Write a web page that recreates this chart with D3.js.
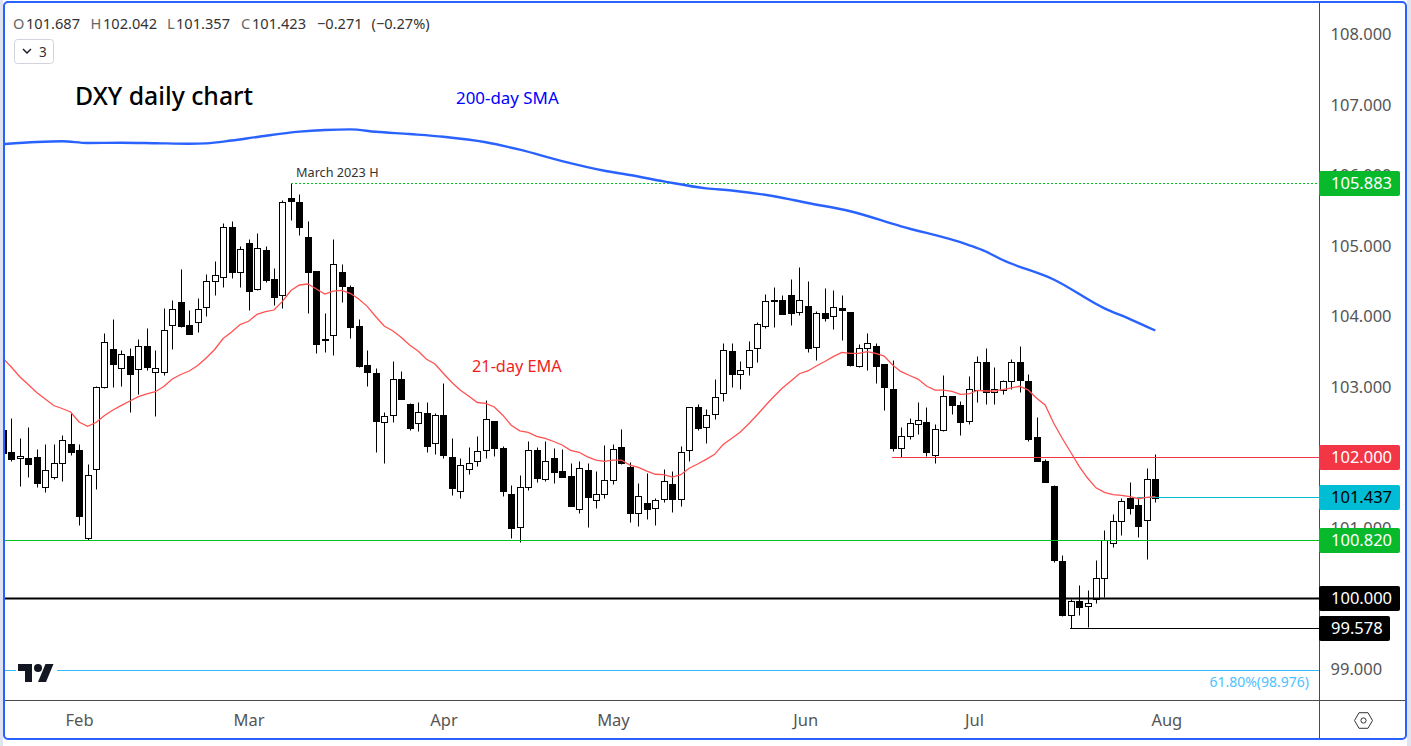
<!DOCTYPE html>
<html lang="en">
<head>
    <title>DXY daily chart</title>
    <script src="https://d3js.org/d3.v7.min.js"></script>
    <style>
        html, body {
            margin: 0;
            padding: 0;
            background: #ffffff;
            overflow: hidden;
        }
        svg {
            display: block;
        }
        text {
            font-family: "Noto Sans", sans-serif;
        }
        .axis path, .axis line {
            display: none;
        }
        .axis text {
            fill: #555555;
            font-size: 16.5px;
        }
    </style>
</head>
<body>
<svg class="chart" width="1411" height="746"></svg>

<script>
    // daily bars (first bar is cut by the frame)
    const opens = [102.383,102.071,101.981,101.986,102.000,101.570,101.712,101.910,102.184,102.099,
        100.846,101.825,102.988,103.532,103.258,103.433,103.243,103.574,103.210,103.201,
        103.868,104.199,103.872,103.910,104.123,104.492,104.548,105.258,104.619,105.035,
        104.378,104.936,104.525,104.293,105.674,105.612,105.116,104.638,103.664,103.726,
        104.619,104.407,103.853,103.300,103.187,102.492,102.591,103.102,102.752,102.478,
        102.619,102.194,102.591,101.995,101.513,101.825,101.938,102.094,102.506,102.123,
        101.470,101.002,101.570,102.094,101.693,101.981,101.797,101.726,101.258,101.811,
        101.385,101.470,101.669,102.137,101.853,101.201,101.343,101.272,101.399,101.612,
        101.399,102.094,102.704,102.421,102.605,102.903,103.499,103.182,103.272,103.541,
        103.853,104.217,104.222,104.293,104.052,104.137,103.555,104.038,103.995,104.108,
        104.052,103.286,103.541,103.569,103.314,102.964,102.123,102.293,102.472,102.491,
        102.023,102.378,102.865,102.732,102.506,102.945,103.342,102.917,102.945,103.073,
        103.342,103.073,102.279,101.938,101.584,100.520,99.754,99.953,99.882,99.981,
        100.279,100.775,101.087,101.414,101.314,101.102,101.687];
    const highs = [102.450,102.553,102.265,102.421,102.109,102.180,102.180,102.307,102.619,102.180,
        101.896,103.002,103.754,103.953,103.513,103.541,103.669,103.825,103.513,104.109,
        104.222,104.662,104.080,104.251,104.591,104.775,105.314,105.343,104.993,105.087,
        105.173,104.993,104.676,105.645,105.883,105.726,105.343,104.640,104.038,105.087,
        104.733,104.435,103.953,103.513,103.258,102.634,103.357,103.215,102.761,102.775,
        102.775,102.619,103.045,102.265,101.981,102.137,102.298,102.808,102.510,102.151,
        101.598,101.740,102.222,102.137,102.222,102.123,102.109,101.910,101.938,101.910,
        101.797,102.165,102.179,102.392,101.924,101.626,101.768,101.414,101.825,101.797,
        102.151,102.710,102.747,102.681,103.101,103.612,103.612,103.357,103.640,103.910,
        104.307,104.406,104.293,104.520,104.690,104.491,104.075,104.392,104.364,104.293,
        104.061,103.598,103.754,103.612,103.320,103.375,102.420,102.548,102.775,102.704,
        102.463,103.158,102.870,102.789,103.144,103.427,103.541,103.271,103.090,103.385,
        103.569,103.172,102.562,101.967,101.602,100.605,99.981,100.180,100.109,100.534,
        100.964,101.187,101.414,101.641,101.423,101.839,102.042];
    const lows = [101.980,101.948,101.593,101.721,101.579,101.508,101.693,101.664,102.024,101.040,
        100.823,101.551,102.980,102.998,103.007,102.643,102.898,103.239,102.586,103.168,
        103.537,103.849,103.745,103.778,104.005,104.303,104.416,104.544,104.416,104.090,
        104.370,104.487,104.156,104.118,105.362,105.154,104.047,103.480,103.494,103.452,
        104.203,103.693,103.281,103.012,102.076,101.920,102.501,102.820,102.388,102.374,
        102.076,102.047,101.991,101.461,101.423,101.763,101.877,101.990,102.019,101.451,
        100.856,100.799,101.536,101.650,101.664,101.636,101.715,101.305,101.210,101.012,
        101.281,101.423,101.622,101.896,101.083,101.026,101.125,101.040,101.366,101.224,
        101.310,101.948,102.387,102.203,102.543,102.799,102.997,102.969,103.168,103.352,
        103.834,103.848,104.030,103.877,104.019,103.494,103.380,103.934,103.820,103.664,
        103.295,103.280,103.238,103.054,102.671,102.089,101.995,102.260,102.326,102.019,
        101.919,102.370,102.614,102.316,102.472,102.784,102.756,102.756,102.888,102.959,
        102.926,102.231,101.940,101.640,100.515,99.749,99.578,99.764,99.593,99.934,
        100.009,100.728,100.898,101.196,100.870,100.558,101.357];
    const closes = [102.052,101.976,102.009,101.905,101.636,101.811,101.910,102.236,102.076,101.168,
        101.740,102.988,103.626,103.324,103.456,103.182,103.570,103.281,103.258,103.797,
        104.095,103.863,103.749,104.095,104.492,104.577,105.258,104.629,104.946,104.359,
        104.960,104.515,104.274,105.612,105.636,105.267,104.629,103.608,103.669,104.733,
        104.430,103.849,103.296,103.210,102.515,102.577,103.102,102.827,102.416,102.634,
        102.161,102.591,102.033,101.565,101.882,101.910,102.080,102.534,102.132,101.522,
        100.997,101.570,102.094,101.707,101.938,101.792,101.721,101.310,101.839,101.437,
        101.470,101.669,102.109,101.919,101.210,101.442,101.267,101.385,101.655,101.409,
        102.066,102.704,102.416,102.591,102.846,103.513,103.182,103.229,103.513,103.881,
        104.208,104.222,104.033,104.047,104.222,103.551,104.038,103.976,104.123,104.090,
        103.309,103.541,103.612,103.295,102.997,102.132,102.293,102.477,102.520,102.075,
        102.392,102.860,102.742,102.501,102.959,103.342,102.917,102.959,103.073,103.342,
        103.097,102.260,101.948,101.650,100.543,99.764,99.953,99.877,99.924,100.279,
        100.818,101.087,101.371,101.281,101.026,101.683,101.423];

    // 21-day EMA, one value per bar
    const ema21 = [103.404,103.276,103.139,103.028,102.915,102.823,102.730,102.688,102.638,102.496,
        102.435,102.489,102.589,102.667,102.733,102.794,102.855,102.894,102.926,103.000,
        103.106,103.170,103.220,103.298,103.404,103.525,103.681,103.773,103.879,103.925,
        104.024,104.061,104.085,104.208,104.362,104.440,104.454,104.383,104.312,104.354,
        104.364,104.322,104.241,104.137,103.993,103.858,103.791,103.698,103.589,103.503,
        103.386,103.319,103.184,103.057,102.946,102.862,102.773,102.760,102.709,102.593,
        102.450,102.372,102.350,102.294,102.265,102.220,102.170,102.095,102.067,102.003,
        101.957,101.939,101.957,101.957,101.886,101.854,101.801,101.755,101.749,101.716,
        101.749,101.840,101.901,101.967,102.038,102.177,102.262,102.350,102.468,102.596,
        102.730,102.858,102.979,103.078,103.181,103.220,103.291,103.354,103.423,103.485,
        103.471,103.471,103.494,103.471,103.432,103.305,103.210,103.156,103.106,103.007,
        102.950,102.950,102.932,102.889,102.894,102.946,102.936,102.936,102.955,102.979,
        103.003,102.950,102.833,102.738,102.482,102.269,102.071,101.872,101.702,101.563,
        101.499,101.465,101.457,101.437,101.408,101.428,101.437];

    // 200-day SMA, read at these bars
    const smaBars = [0,4,7,10,14,18,22,24,27,30,35,38,41,44,48,52,57,61,66,71,74,78,83,86,91,95,100,106,114,116,118,124,130,133,136];
    const smaValues = [106.438,106.468,106.478,106.454,106.458,106.451,106.444,106.449,106.489,106.539,
        106.615,106.638,106.647,106.614,106.581,106.543,106.465,106.359,106.198,106.061,106.000,
        105.909,105.810,105.780,105.699,105.603,105.486,105.272,105.007,104.915,104.794,104.518,
        104.109,103.957,103.794];

    // axes
    const priceTicks = [99,100,101,102,103,104,105,106,107,108];
    const monthBars = [9,29,52,72,94.7,114.6,137.3];
    const monthNames = ["Feb","Mar","Apr","May","Jun","Jul","Aug"];

    // horizontal levels and the bar each one starts from
    const levelValues = [105.883,102,101.437,100.82,100,99.578,98.976];
    const levelStartBars = [34,105,134,0,0,126,0];

    // header legend
    const legendParts = ["O","101.687","H","102.042","L","101.357","C","101.423","\u22120.271","(\u22120.27%)"];

    const width = 1411, height = 746;
    const frame = {left: 5, top: 3, right: 1405, bottom: 738};
    const axisX = 1319.5, axisY = 700.5;

    const x = d3.scaleLinear().domain([0, 136]).range([2.8, 1155.3]);
    const y = d3.scaleLinear().domain([98.553, 108.44]).range([700, 3]);

    // candles sit on whole pixels
    const px = i => Math.round(x(i)) + 0.5;
    const py = v => Math.round(y(v)) + 0.5;

    const svg = d3.select("svg.chart");

    svg.append("defs").append("clipPath").attr("id", "plot")
        .append("rect")
        .attr("x", frame.left).attr("y", frame.top)
        .attr("width", axisX - frame.left).attr("height", axisY - frame.top);

    const plot = svg.append("g").attr("clip-path", "url(#plot)");

    // candles
    const bars = plot.selectAll("g.bar")
        .data(d3.range(opens.length))
        .enter().append("g").attr("class", "bar");

    bars.append("line")
        .attr("x1", px).attr("x2", px)
        .attr("y1", i => py(highs[i])).attr("y2", i => py(lows[i]))
        .attr("stroke", "#000000");

    bars.append("rect")
        .attr("x", i => px(i) - 3)
        .attr("width", 6)
        .attr("y", i => py(Math.max(opens[i], closes[i])))
        .attr("height", i => Math.max(1, py(Math.min(opens[i], closes[i])) - py(Math.max(opens[i], closes[i]))))
        .attr("fill", i => closes[i] >= opens[i] ? "#ffffff" : "#000000")
        .attr("stroke", "#000000");

    // levels
    const levelColor = ["#00c21f", "#f23645", "#00bcd4", "#00c21f", "#000000", "#000000", "#33bbff"];
    const levelText = ["#ffffff", "#ffffff", "#000000", "#ffffff", "#ffffff", "#ffffff", null];

    plot.selectAll("line.level")
        .data(levelValues)
        .enter().append("line").attr("class", "level")
        .attr("x1", (d, i) => Math.round(x(levelStartBars[i])) - (i === 0 ? 0 : 1))
        .attr("x2", axisX)
        .attr("y1", d => Math.round(y(d)) + 0.5)
        .attr("y2", d => Math.round(y(d)) + 0.5)
        .attr("stroke", (d, i) => levelColor[i])
        .attr("stroke-width", d => d === 100 ? 2 : 1)
        .attr("stroke-dasharray", d => d === 105.883 ? "2 2" : null);

    // moving averages
    plot.append("path")
        .attr("fill", "none")
        .attr("stroke", "#ff5252")
        .attr("stroke-width", 1.3)
        .attr("d", d3.line().x((d, i) => x(i)).y(d => y(d))(ema21));

    plot.append("path")
        .attr("fill", "none")
        .attr("stroke", "#2962ff")
        .attr("stroke-width", 2.4)
        .attr("d", d3.line().curve(d3.curveMonotoneX)
            .x((d, i) => x(smaBars[i])).y(d => y(d))(smaValues));

    // logo with its white halo
    const logo = svg.append("g").attr("transform", "translate(18,660)");
    logo.append("rect").attr("x", -2).attr("y", 3).attr("width", 41).attr("height", 20).attr("fill", "#ffffff");
    logo.append("path").attr("fill", "#131722")
        .attr("d", "M14 22H7V11H0V4h14v18zM28 22h-8l7.5-18h8L28 22z");
    logo.append("circle").attr("fill", "#131722").attr("cx", 20).attr("cy", 8).attr("r", 4);

    // annotations
    const note = (tx, ty, size, color, label, anchor) => svg.append("text")
        .attr("x", tx).attr("y", ty)
        .attr("font-size", size)
        .attr("fill", color)
        .attr("text-anchor", anchor || "start")
        .text(label);

    note(75, 105, 24.8, "#000000", "DXY daily chart").attr("font-weight", 500);
    note(456, 104, 16.9, "#0000ff", "200-day SMA");
    note(472, 372, 16.3, "#f01e1e", "21-day EMA");
    note(296, 177, 12.7, "#333333", "March 2023 H");
    note(1309, 687, 14, "#4cc2ff", "61.80%(98.976)", "end");

    // header legend
    const legendX = [13, 26, 90.5, 103, 167, 176, 241, 252, 317, 371.5];
    svg.append("g").selectAll("text")
        .data(legendParts)
        .enter().append("text")
        .attr("x", (d, i) => legendX[i])
        .attr("y", 29)
        .attr("font-size", 14.6)
        .attr("fill", (d, i) => i < 8 && i % 2 === 0 ? "#666666" : "#333333")
        .text(d => d);

    // collapsed indicators button
    svg.append("rect")
        .attr("x", 14.5).attr("y", 39.5).attr("width", 39).attr("height", 24).attr("rx", 3)
        .attr("fill", "#ffffff").attr("stroke", "#d1d4dc");
    svg.append("path")
        .attr("d", "M23 49l4 4 4-4")
        .attr("fill", "none").attr("stroke", "#131722").attr("stroke-width", 1.4);
    note(39, 57, 13.5, "#333333", "3");

    // axes
    svg.append("rect")
        .attr("x", axisX).attr("y", frame.top)
        .attr("width", frame.right - axisX).attr("height", frame.bottom - frame.top)
        .attr("fill", "#ffffff");

    svg.append("g").attr("class", "axis")
        .attr("transform", `translate(${axisX},0.5)`)
        .call(d3.axisRight(y).tickValues(priceTicks).tickFormat(d3.format(".3f")).tickSize(0).tickPadding(11));

    svg.append("g").attr("class", "axis")
        .attr("transform", `translate(0,${axisY})`)
        .call(d3.axisBottom(x).tickValues(monthBars).tickFormat((d, i) => monthNames[i]).tickSize(0).tickPadding(14));

    const rule = (x1, y1, x2, y2) => svg.append("line")
        .attr("x1", x1).attr("y1", y1).attr("x2", x2).attr("y2", y2)
        .attr("stroke", "#4a4a4a");
    rule(axisX, frame.top, axisX, frame.bottom);
    rule(frame.left, axisY, frame.right, axisY);

    // price tags cover the axis labels
    const tagWidth = [81, 81, 81, 81, 81, 71];
    const tags = svg.append("g").selectAll("g")
        .data(levelValues.slice(0, 6))
        .enter().append("g")
        .attr("transform", d => `translate(${axisX - 0.5},${Math.round(y(d)) + 0.5})`);

    tags.append("rect")
        .attr("y", -12.5).attr("height", 25)
        .attr("width", (d, i) => tagWidth[i]).attr("rx", 2)
        .attr("fill", (d, i) => i === 0 || i === 3 ? "#09b92c" : levelColor[i]);

    tags.append("text")
        .attr("x", 12).attr("dy", "0.36em")
        .attr("font-size", 16.5)
        .attr("fill", (d, i) => levelText[i])
        .text(d3.format(".3f"));

    // settings icon
    const hexR = 9;
    const cog = svg.append("g").attr("transform", "translate(1363.5,720.5)")
        .attr("fill", "none").attr("stroke", "#333333");
    cog.append("path").attr("d", d3.line()(d3.range(6).map(k => [
        hexR * Math.cos(k * Math.PI / 3), hexR * Math.sin(k * Math.PI / 3)])) + "Z");
    cog.append("circle").attr("r", 2.6);

    // the window frame
    svg.append("rect").attr("x", 0).attr("y", 0).attr("width", 3).attr("height", height).attr("fill", "#e0e3f0");
    svg.append("rect").attr("x", 1407).attr("y", 0).attr("width", 4).attr("height", height).attr("fill", "#e0e3f0");
    svg.append("rect")
        .attr("x", 4).attr("y", 2)
        .attr("width", 1402).attr("height", 737).attr("rx", 4)
        .attr("fill", "none").attr("stroke", "#2962ff").attr("stroke-width", 2);
</script>
</body>
</html>
